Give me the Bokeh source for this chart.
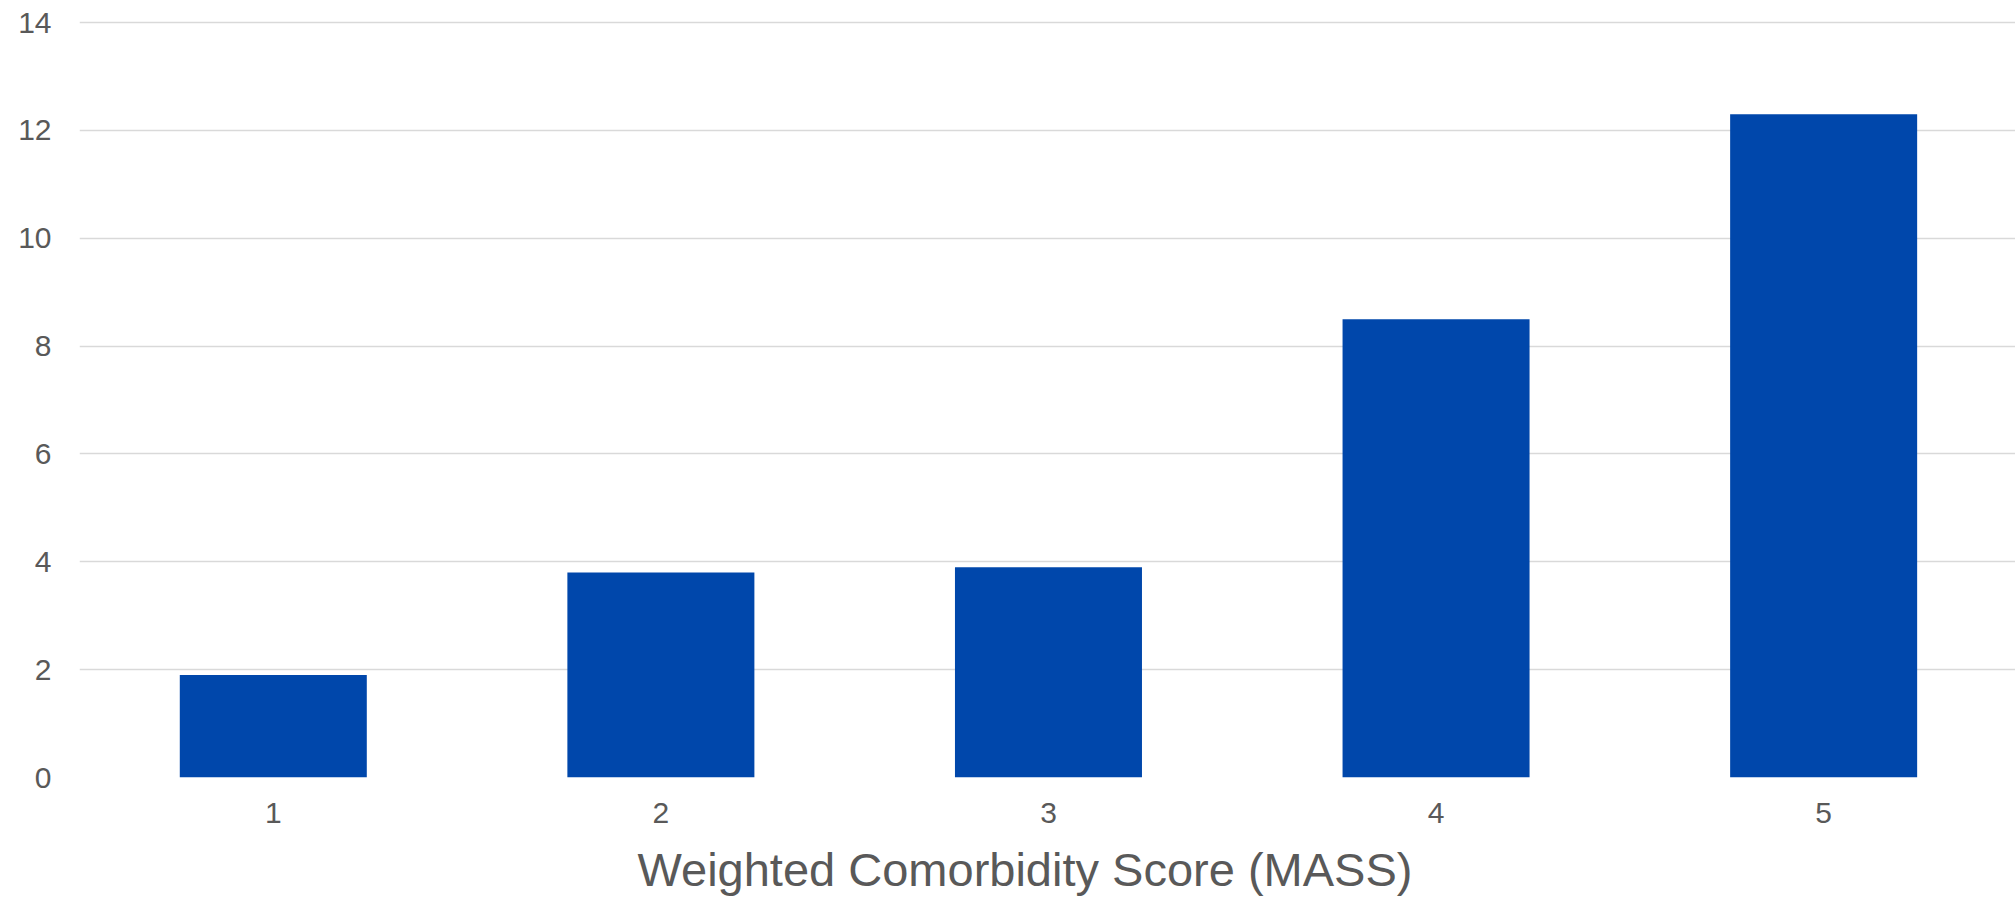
from bokeh.plotting import figure
from bokeh.models import Range1d, FixedTicker, Title
from bokeh.embed import file_html
from bokeh.resources import INLINE

categories = [1, 2, 3, 4, 5]
tick_labels = ["1", "2", "3", "4", "5"]
values = [1.9, 3.8, 3.9, 8.5, 12.3]
y_ticks = [0, 2, 4, 6, 8, 10, 12, 14]
x_title = "Weighted Comorbidity Score (MASS)"

FONT = "Liberation Sans"
TXT = "#595959"

p = figure(width=2015, height=911, output_backend="svg",
           toolbar_location=None, x_range=Range1d(0.5, 5.495), y_range=Range1d(0, 14.04),
           min_border_top=20, min_border_right=0, min_border_left=79,
           min_border_bottom=133)
p.outline_line_color = None
p.background_fill_color = "white"
p.border_fill_color = "white"

p.vbar(x=categories, top=values, width=0.4825, bottom=0,
       fill_color="#0047AB", line_color=None)

p.xaxis.ticker = FixedTicker(ticks=categories)
p.xaxis.major_label_overrides = {c: t for c, t in zip(categories, tick_labels)}
p.yaxis.ticker = FixedTicker(ticks=y_ticks)

for ax in (p.xaxis, p.yaxis):
    ax.axis_line_color = None
    ax.major_tick_line_color = None
    ax.minor_tick_line_color = None
    ax.major_tick_out = 0
    ax.major_tick_in = 0
    ax.major_label_text_font = FONT
    ax.major_label_text_font_size = "30px"
    ax.major_label_text_color = TXT

p.yaxis.major_label_standoff = 28
p.xaxis.major_label_standoff = 25

t = Title(text=x_title, align="left", offset=558, standoff=31,
          text_font=FONT, text_font_size="47px", text_font_style="normal",
          text_color=TXT)
p.add_layout(t, "below")

p.xgrid.grid_line_color = None
p.ygrid.grid_line_color = "#D9D9D9"
p.ygrid.grid_line_width = 1.3

open("out.html", "w").write(file_html(p, INLINE))
